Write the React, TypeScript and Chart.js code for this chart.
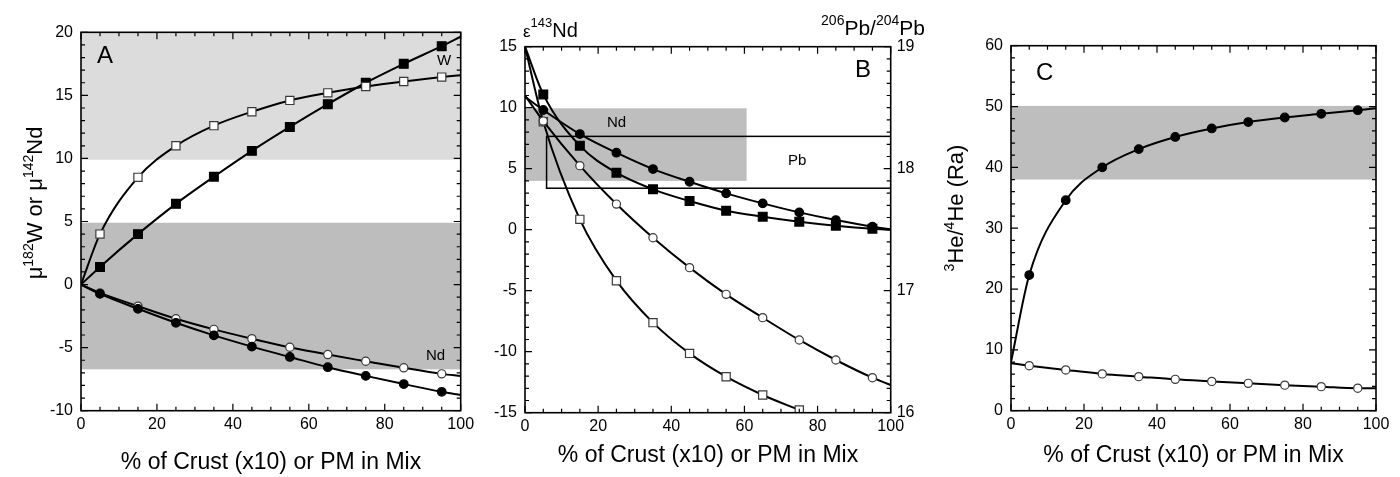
import React, { useEffect, useRef } from 'react';
import { Chart, registerables } from 'chart.js';
Chart.register(...registerables);

const FONT = '"Liberation Sans", Arial, Helvetica, sans-serif';

// ---------- shared x values ----------
const X_FULL = [0, 5, 15, 25, 35, 45, 55, 65, 75, 85, 95, 100];
const X_TO75 = [0, 5, 15, 25, 35, 45, 55, 65, 75];
const X_TICK_LABELS = [0, 20, 40, 60, 80, 100];

// ---------- Panel A ----------
const A_W_OPEN = [0, 4.0, 8.5, 11.0, 12.6, 13.7, 14.6, 15.2, 15.7, 16.1, 16.45, 16.6];
const A_W_FILLED = [0, 1.4, 4.0, 6.4, 8.55, 10.6, 12.5, 14.3, 16.0, 17.5, 18.9, 19.65];
const A_ND_OPEN = [0, -0.66, -1.71, -2.71, -3.55, -4.29, -4.97, -5.55, -6.08, -6.6, -7.08, -7.25];
const A_ND_FILLED = [0, -0.74, -1.92, -3.03, -4.03, -4.92, -5.74, -6.55, -7.24, -7.89, -8.5, -8.76];
const A_Y_TICK_LABELS = [-10, -5, 0, 5, 10, 15, 20];
const A_BAND_LIGHT = [9.9, 20];
const A_BAND_DARK = [-6.72, 4.9];

// ---------- Panel B ----------
const B_CIRC_FILLED = [10.9, 9.81, 7.84, 6.31, 4.97, 3.93, 2.98, 2.16, 1.42, 0.79, 0.25, 0.03];
const B_SQ_FILLED = [15, 11.09, 6.89, 4.67, 3.31, 2.35, 1.56, 1.07, 0.66, 0.33, 0.08, 0];
const B_CIRC_OPEN = [11, 8.9, 5.25, 2.1, -0.66, -3.11, -5.3, -7.21, -9.04, -10.68, -12.13, -12.73];
const B_SQ_OPEN = [15, 8.85, 0.85, -4.18, -7.62, -10.14, -12.05, -13.55, -14.78];
const B_Y_TICK_LABELS = [-15, -10, -5, 0, 5, 10, 15];
const B_Y2_TICK_LABELS = [16, 17, 18, 19];
const B_ND_BOX = { x: [0, 60.6], y: [4, 9.95] };
const B_PB_BOX = { x: [5.9, 100], y: [3.4, 7.65] };

// ---------- Panel C ----------
const C_FILLED = [8, 22.3, 34.6, 40.0, 43.0, 45.0, 46.4, 47.45, 48.2, 48.8, 49.4, 49.7];
const C_OPEN = [7.8, 7.4, 6.7, 6.05, 5.6, 5.15, 4.82, 4.5, 4.2, 3.95, 3.7, 3.7];
const C_Y_TICK_LABELS = [0, 10, 20, 30, 40, 50, 60];
const C_BAND = [38, 50.1];

// ---------- helpers ----------
type Part = { t: string; size: number; rise?: number };

function richWidth(ctx: CanvasRenderingContext2D, parts: Part[]) {
  let w = 0;
  for (const p of parts) {
    ctx.font = `${p.size}px ${FONT}`;
    w += ctx.measureText(p.t).width;
  }
  return w;
}

function drawRich(ctx: CanvasRenderingContext2D, parts: Part[], x: number, y: number, align: 'left' | 'center' | 'right') {
  const w = richWidth(ctx, parts);
  let cx = align === 'center' ? x - w / 2 : align === 'right' ? x - w : x;
  ctx.textAlign = 'left';
  ctx.textBaseline = 'alphabetic';
  ctx.fillStyle = '#000';
  for (const p of parts) {
    ctx.font = `${p.size}px ${FONT}`;
    ctx.fillText(p.t, cx, y - (p.rise || 0));
    cx += ctx.measureText(p.t).width;
  }
}

const isMult = (v: number, step: number) => Math.abs(v / step - Math.round(v / step)) < 1e-6;

const pts = (xs: number[], ys: number[]) => xs.map((x, i) => ({ x, y: ys[i] }));
const markerRadii = (xs: number[], r: number) => xs.map((x) => (x % 10 === 5 ? r : 0));

type Style = 'sqFilled' | 'sqOpen' | 'circFilled' | 'circOpen';
function series(xs: number[], ys: number[], style: Style) {
  const sq = style === 'sqFilled' || style === 'sqOpen';
  const filled = style === 'sqFilled' || style === 'circFilled';
  const r = sq ? (filled ? 6.2 : 5.8) : filled ? 4.3 : 4.1;
  return {
    data: pts(xs, ys),
    borderColor: '#000',
    borderWidth: 2,
    cubicInterpolationMode: 'monotone',
    pointStyle: sq ? 'rect' : 'circle',
    pointRadius: markerRadii(xs, r),
    pointBackgroundColor: filled ? '#000' : '#fff',
    pointBorderColor: filled ? '#000' : '#3a3a3a',
    pointBorderWidth: 1.2,
    fill: false,
  };
}

type TextItem = { parts: Part[]; x: number; y: number; align: 'left' | 'center' | 'right'; rotate?: boolean };
type Rect = { x: number[]; y: number[]; fill?: string; stroke?: string };

type PanelCfg = {
  left: number;
  width: number;
  area: { left: number; right: number; top: number; bottom: number };
  yMin: number;
  yMax: number;
  yStep: number;
  yMajor: number;
  yLabels: number[];
  y2?: { min: number; max: number; step: number; major: number; labels: number[] };
  rects: Rect[];
  texts: TextItem[];
  datasets: any[];
};

const H = 477;

function makePlugin(cfg: PanelCfg) {
  return {
    id: 'panelDecor',
    beforeDatasetsDraw(chart: any) {
      const { ctx, chartArea: a } = chart;
      const xs = chart.scales.x;
      const ys = chart.scales.y;
      ctx.save();
      ctx.beginPath();
      ctx.rect(a.left, a.top, a.right - a.left, a.bottom - a.top);
      ctx.clip();
      for (const r of cfg.rects) {
        const x0 = xs.getPixelForValue(r.x[0]);
        const x1 = xs.getPixelForValue(r.x[1]);
        const y0 = ys.getPixelForValue(r.y[1]);
        const y1 = ys.getPixelForValue(r.y[0]);
        if (r.fill) {
          ctx.fillStyle = r.fill;
          ctx.fillRect(x0, y0, x1 - x0, y1 - y0);
        }
        if (r.stroke) {
          ctx.strokeStyle = r.stroke;
          ctx.lineWidth = 1.5;
          ctx.strokeRect(x0, y0, x1 - x0, y1 - y0);
        }
      }
      ctx.restore();
    },
    afterDatasetsDraw(chart: any) {
      const { ctx, chartArea: a } = chart;
      const xs = chart.scales.x;
      const ys = chart.scales.y;
      ctx.save();
      ctx.strokeStyle = '#000';
      ctx.lineWidth = 1.2;
      ctx.beginPath();
      for (const t of xs.ticks) {
        const px = xs.getPixelForValue(t.value);
        const len = isMult(t.value, 20) ? 7 : 4;
        ctx.moveTo(px, a.bottom);
        ctx.lineTo(px, a.bottom - len);
        ctx.moveTo(px, a.top);
        ctx.lineTo(px, a.top + len);
      }
      for (const t of ys.ticks) {
        const py = ys.getPixelForValue(t.value);
        const len = isMult(t.value, cfg.yMajor) ? 7 : 4;
        ctx.moveTo(a.left, py);
        ctx.lineTo(a.left + len, py);
        if (!cfg.y2) {
          ctx.moveTo(a.right, py);
          ctx.lineTo(a.right - len, py);
        }
      }
      if (cfg.y2) {
        const y2 = chart.scales.y1;
        for (const t of y2.ticks) {
          const py = y2.getPixelForValue(t.value);
          const len = isMult(t.value, cfg.y2.major) ? 7 : 4;
          ctx.moveTo(a.right, py);
          ctx.lineTo(a.right - len, py);
        }
      }
      ctx.stroke();
      ctx.lineWidth = 1.6;
      ctx.strokeRect(a.left, a.top, a.right - a.left, a.bottom - a.top);
      for (const t of cfg.texts) {
        if (t.rotate) {
          ctx.save();
          ctx.translate(t.x, t.y);
          ctx.rotate(-Math.PI / 2);
          drawRich(ctx, t.parts, 0, 0, t.align);
          ctx.restore();
        } else {
          drawRich(ctx, t.parts, t.x, t.y, t.align);
        }
      }
      ctx.restore();
    },
  };
}

function tickFont() {
  return { family: FONT, size: 16 };
}

function buildChart(canvas: HTMLCanvasElement, cfg: PanelCfg) {
  const a = cfg.area;
  const scales: any = {
    x: {
      type: 'linear',
      min: 0,
      max: 100,
      grid: { display: false, drawTicks: false },
      border: { display: false },
      ticks: {
        stepSize: 5,
        autoSkip: false,
        maxRotation: 0,
        padding: 4,
        color: '#000',
        font: tickFont(),
        callback: (v: number) => (X_TICK_LABELS.includes(v) ? String(v) : ''),
      },
      afterFit: (s: any) => {
        s.height = H - a.bottom;
        s.paddingLeft = 0;
        s.paddingRight = 0;
      },
    },
    y: {
      type: 'linear',
      position: 'left',
      min: cfg.yMin,
      max: cfg.yMax,
      grid: { display: false, drawTicks: false },
      border: { display: false },
      ticks: {
        stepSize: cfg.yStep,
        autoSkip: false,
        padding: 8,
        color: '#000',
        font: tickFont(),
        callback: (v: number) => (cfg.yLabels.some((l) => Math.abs(l - v) < 1e-6) ? String(Math.round(v)) : ''),
      },
      afterFit: (s: any) => {
        s.width = a.left;
        s.paddingTop = 0;
        s.paddingBottom = 0;
      },
    },
  };
  if (cfg.y2) {
    const y2 = cfg.y2;
    scales.y1 = {
      type: 'linear',
      position: 'right',
      min: y2.min,
      max: y2.max,
      grid: { display: false, drawTicks: false },
      border: { display: false },
      ticks: {
        stepSize: y2.step,
        autoSkip: false,
        padding: 6,
        color: '#000',
        font: tickFont(),
        callback: (v: number) => (y2.labels.some((l) => Math.abs(l - v) < 1e-6) ? String(Math.round(v)) : ''),
      },
      afterFit: (s: any) => {
        s.width = cfg.width - a.right;
        s.paddingTop = 0;
        s.paddingBottom = 0;
      },
    };
  }
  return new Chart(canvas, {
    type: 'line',
    data: { datasets: cfg.datasets },
    options: {
      animation: false,
      responsive: false,
      devicePixelRatio: 1,
      layout: {
        padding: { top: a.top, right: cfg.y2 ? 0 : cfg.width - a.right, bottom: 0, left: 0 },
      },
      plugins: { legend: { display: false }, tooltip: { enabled: false } },
      scales,
    } as any,
    plugins: [makePlugin(cfg)],
  } as any);
}

const mu = '\u03BC';
const X_TITLE = '% of Crust (x10) or PM in Mix';

const PANELS: PanelCfg[] = [
  {
    left: 0,
    width: 480,
    area: { left: 81, right: 460.7, top: 32.3, bottom: 410.7 },
    yMin: -10,
    yMax: 20,
    yStep: 1,
    yMajor: 5,
    yLabels: A_Y_TICK_LABELS,
    rects: [
      { x: [0, 100], y: A_BAND_LIGHT, fill: '#dcdcdc' },
      { x: [0, 100], y: A_BAND_DARK, fill: '#bdbdbd' },
    ],
    texts: [
      {
        parts: [
          { t: mu, size: 22 },
          { t: '182', size: 14, rise: 9 },
          { t: 'W or ' + mu, size: 22 },
          { t: '142', size: 14, rise: 9 },
          { t: 'Nd', size: 22 },
        ],
        x: 42,
        y: 203,
        align: 'center',
        rotate: true,
      },
      { parts: [{ t: X_TITLE, size: 23 }], x: 271, y: 469, align: 'center' },
      { parts: [{ t: 'A', size: 24 }], x: 97, y: 63, align: 'left' },
      { parts: [{ t: 'W', size: 15 }], x: 437, y: 65, align: 'left' },
      { parts: [{ t: 'Nd', size: 15 }], x: 426, y: 360, align: 'left' },
    ],
    datasets: [
      series(X_FULL, A_ND_FILLED, 'circFilled'),
      series(X_FULL, A_ND_OPEN, 'circOpen'),
      series(X_FULL, A_W_OPEN, 'sqOpen'),
      series(X_FULL, A_W_FILLED, 'sqFilled'),
    ],
  },
  {
    left: 470,
    width: 470,
    area: { left: 55, right: 420.7, top: 46.7, bottom: 412.7 },
    yMin: -15,
    yMax: 15,
    yStep: 1,
    yMajor: 5,
    yLabels: B_Y_TICK_LABELS,
    y2: { min: 16, max: 19, step: 0.1, major: 1, labels: B_Y2_TICK_LABELS },
    rects: [
      { x: B_ND_BOX.x, y: B_ND_BOX.y, fill: '#bebebe' },
      { x: B_PB_BOX.x, y: B_PB_BOX.y, stroke: '#000' },
    ],
    texts: [
      {
        parts: [
          { t: '\u03B5', size: 17 },
          { t: '143', size: 13, rise: 10 },
          { t: 'Nd', size: 20 },
        ],
        x: 523 - 470,
        y: 37,
        align: 'left',
      },
      {
        parts: [
          { t: '206', size: 14, rise: 10 },
          { t: 'Pb/', size: 21 },
          { t: '204', size: 14, rise: 10 },
          { t: 'Pb', size: 21 },
        ],
        x: 925 - 470,
        y: 35,
        align: 'right',
      },
      { parts: [{ t: X_TITLE, size: 23 }], x: 708 - 470, y: 462, align: 'center' },
      { parts: [{ t: 'B', size: 24 }], x: 855 - 470, y: 77, align: 'left' },
      { parts: [{ t: 'Nd', size: 15 }], x: 607 - 470, y: 127, align: 'left' },
      { parts: [{ t: 'Pb', size: 15 }], x: 788 - 470, y: 165, align: 'left' },
    ],
    datasets: [
      series(X_FULL, B_CIRC_OPEN, 'circOpen'),
      series(X_TO75, B_SQ_OPEN, 'sqOpen'),
      series(X_FULL, B_CIRC_FILLED, 'circFilled'),
      series(X_FULL, B_SQ_FILLED, 'sqFilled'),
    ],
  },
  {
    left: 935,
    width: 465,
    area: { left: 76, right: 441, top: 45.7, bottom: 410.7 },
    yMin: 0,
    yMax: 60,
    yStep: 2,
    yMajor: 10,
    yLabels: C_Y_TICK_LABELS,
    rects: [{ x: [0, 100], y: C_BAND, fill: '#bebebe' }],
    texts: [
      {
        parts: [
          { t: '3', size: 14, rise: 9 },
          { t: 'He/', size: 22 },
          { t: '4', size: 14, rise: 9 },
          { t: 'He (Ra)', size: 22 },
        ],
        x: 963 - 935,
        y: 208,
        align: 'center',
        rotate: true,
      },
      { parts: [{ t: X_TITLE, size: 23 }], x: 1193.5 - 935, y: 462, align: 'center' },
      { parts: [{ t: 'C', size: 24 }], x: 1036 - 935, y: 80, align: 'left' },
    ],
    datasets: [series(X_FULL, C_OPEN, 'circOpen'), series(X_FULL, C_FILLED, 'circFilled')],
  },
];

function Panel({ cfg }: { cfg: PanelCfg }) {
  const ref = useRef<HTMLCanvasElement | null>(null);
  useEffect(() => {
    if (!ref.current) return;
    const chart = buildChart(ref.current, cfg);
    return () => chart.destroy();
  }, [cfg]);
  return (
    <canvas
      ref={ref}
      width={cfg.width}
      height={H}
      style={{ position: 'absolute', left: cfg.left, top: 0, width: cfg.width, height: H, display: 'block' }}
    />
  );
}

export default function App() {
  return (
    <div style={{ position: 'absolute', left: 0, top: 0, width: 1400, height: H, background: '#fff', overflow: 'hidden' }}>
      {PANELS.map((p, i) => (
        <Panel key={i} cfg={p} />
      ))}
    </div>
  );
}
